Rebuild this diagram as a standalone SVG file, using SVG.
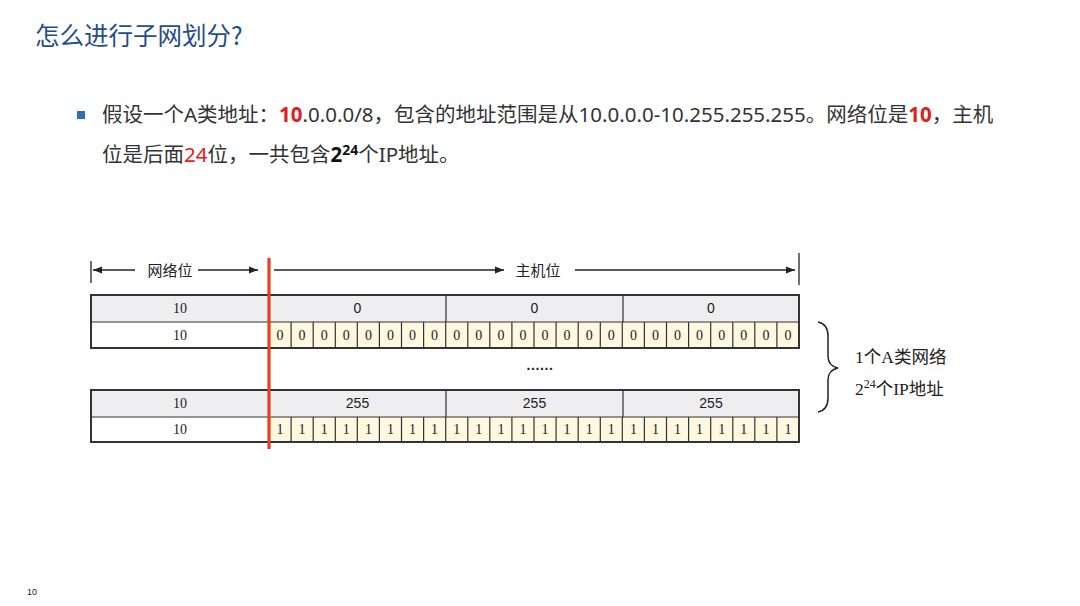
<svg xmlns="http://www.w3.org/2000/svg" width="1080" height="606" viewBox="0 0 1080 606">
<style>
.cjk{font-family:"Noto Sans CJK SC","Noto Sans",sans-serif}
.body{font-family:"Noto Sans","Noto Sans CJK SC",sans-serif;font-size:20.5px;fill:#333}
.red{fill:#e0201a}
.ser{font-family:"Liberation Serif","Noto Sans CJK SC",serif;fill:#222}
.san{font-family:"Liberation Sans",sans-serif;fill:#222;font-size:14px}
.hdr{fill:#eeeef1}
.bitbg{fill:#fdf8df}
.outer{fill:none;stroke:#333;stroke-width:2}
.inner{fill:none;stroke:#333;stroke-width:1.2}
.arr{stroke:#222;stroke-width:1.3;fill:none}
</style>
<defs>
<marker id="ah" viewBox="0 0 10 10" refX="10" refY="5" markerWidth="9" markerHeight="9" markerUnits="userSpaceOnUse" orient="auto">
<path d="M0,1 L10,5 L0,9 z" fill="#222"/>
</marker>
</defs>
<rect width="1080" height="606" fill="#fff"/>
<g id="title">
<text x="35" y="45" class="cjk" font-size="24.5" fill="#1f4e8c">怎么进行子网划分?</text>
</g>
<g id="bullet">
<rect x="77" y="111" width="8" height="8" fill="#2f6db5"/>
<text x="102" y="122" class="body">假设一个A类地址：<tspan class="red" font-weight="bold">10</tspan>.0.0.0/8，包含的地址范围是从10.0.0.0-10.255.255.255。网络位是<tspan class="red" font-weight="bold">10</tspan>，主机</text>
<text x="102" y="162" class="body">位是后面<tspan class="red">24</tspan>位，一共包含<tspan font-weight="bold" fill="#111">2</tspan><tspan font-weight="bold" fill="#111" font-size="14" dy="-7">24</tspan><tspan class="body" dy="7">个IP地址。</tspan></text>
</g>
<g id="header-arrows">
<line x1="91" y1="261" x2="91" y2="283" class="arr"/>
<line x1="135" y1="270" x2="93" y2="270" class="arr" marker-end="url(#ah)"/>
<text x="170" y="276" class="cjk" font-size="15" fill="#222" text-anchor="middle">网络位</text>
<line x1="198" y1="270" x2="258" y2="270" class="arr" marker-end="url(#ah)"/>
<line x1="274" y1="270" x2="504" y2="270" class="arr" marker-end="url(#ah)"/>
<text x="538" y="276" class="cjk" font-size="15" fill="#222" text-anchor="middle">主机位</text>
<line x1="575" y1="270" x2="795" y2="270" class="arr" marker-end="url(#ah)"/>
<line x1="799" y1="253" x2="799" y2="285" class="arr"/>
</g>
<g id="table-zero">
<rect x="91" y="295" width="708" height="27" class="hdr"/>
<rect x="91" y="322" width="178" height="26" fill="#fff"/>
<rect x="269" y="322" width="530" height="26" class="bitbg"/>
<path class="inner" d="M91,322H799M446,295V322M623,295V322M291.1,322V348M313.2,322V348M335.3,322V348M357.3,322V348M379.4,322V348M401.5,322V348M423.6,322V348M445.7,322V348M467.8,322V348M489.8,322V348M511.9,322V348M534,322V348M556.1,322V348M578.2,322V348M600.3,322V348M622.3,322V348M644.4,322V348M666.5,322V348M688.6,322V348M710.7,322V348M732.8,322V348M754.8,322V348M776.9,322V348"/>
<rect x="91" y="295" width="708" height="53" class="outer"/>
<text x="180" y="313" class="ser" font-size="14" text-anchor="middle">10</text>
<text x="180" y="340" class="ser" font-size="14" text-anchor="middle">10</text>
<text x="357.5" y="313" class="san" text-anchor="middle">0</text>
<text x="534.5" y="313" class="san" text-anchor="middle">0</text>
<text x="711" y="313" class="san" text-anchor="middle">0</text>
<text x="280 302.1 324.2 346.3 368.4 390.5 412.5 434.6 456.7 478.8 500.9 523 545 567.1 589.2 611.3 633.4 655.5 677.5 699.6 721.7 743.8 765.9 788" y="340" class="ser" font-size="14" text-anchor="middle">000000000000000000000000</text>
</g>
<g id="ellipsis">
<text x="540" y="370" font-family="Liberation Sans,sans-serif" font-weight="bold" font-size="14" letter-spacing="0.6" fill="#222" text-anchor="middle">......</text>
</g>
<g id="table-ones">
<rect x="91" y="390" width="708" height="27" class="hdr"/>
<rect x="91" y="417" width="178" height="25" fill="#fff"/>
<rect x="269" y="417" width="530" height="25" class="bitbg"/>
<path class="inner" d="M91,417H799M446,390V417M623,390V417M291.1,417V442M313.2,417V442M335.3,417V442M357.3,417V442M379.4,417V442M401.5,417V442M423.6,417V442M445.7,417V442M467.8,417V442M489.8,417V442M511.9,417V442M534,417V442M556.1,417V442M578.2,417V442M600.3,417V442M622.3,417V442M644.4,417V442M666.5,417V442M688.6,417V442M710.7,417V442M732.8,417V442M754.8,417V442M776.9,417V442"/>
<rect x="91" y="390" width="708" height="52" class="outer"/>
<text x="180" y="408" class="ser" font-size="14" text-anchor="middle">10</text>
<text x="180" y="434" class="ser" font-size="14" text-anchor="middle">10</text>
<text x="357.5" y="408" class="san" text-anchor="middle">255</text>
<text x="534.5" y="408" class="san" text-anchor="middle">255</text>
<text x="711" y="408" class="san" text-anchor="middle">255</text>
<text x="280 302.1 324.2 346.3 368.4 390.5 412.5 434.6 456.7 478.8 500.9 523 545 567.1 589.2 611.3 633.4 655.5 677.5 699.6 721.7 743.8 765.9 788" y="434" class="ser" font-size="14" text-anchor="middle">111111111111111111111111</text>
</g>
<g id="divider">
<line x1="269" y1="258" x2="269" y2="449" stroke="#e8401c" stroke-width="3.2"/>
</g>
<g id="brace">
<path d="M818,322 Q828,324 828,336 L828,356 Q828,366 838,368 Q828,370 828,380 L828,398 Q828,410 818,412" fill="none" stroke="#222" stroke-width="1.5"/>
<text x="855" y="363" class="ser" font-size="17.5">1个A类网络</text>
<text x="855" y="395" class="ser" font-size="17.5">2<tspan font-size="12" dy="-7">24</tspan><tspan dy="7">个IP地址</tspan></text>
</g>
<g id="page-number">
<text x="27" y="595" font-family="Liberation Sans,sans-serif" font-size="9" fill="#222">10</text>
</g>
</svg>
